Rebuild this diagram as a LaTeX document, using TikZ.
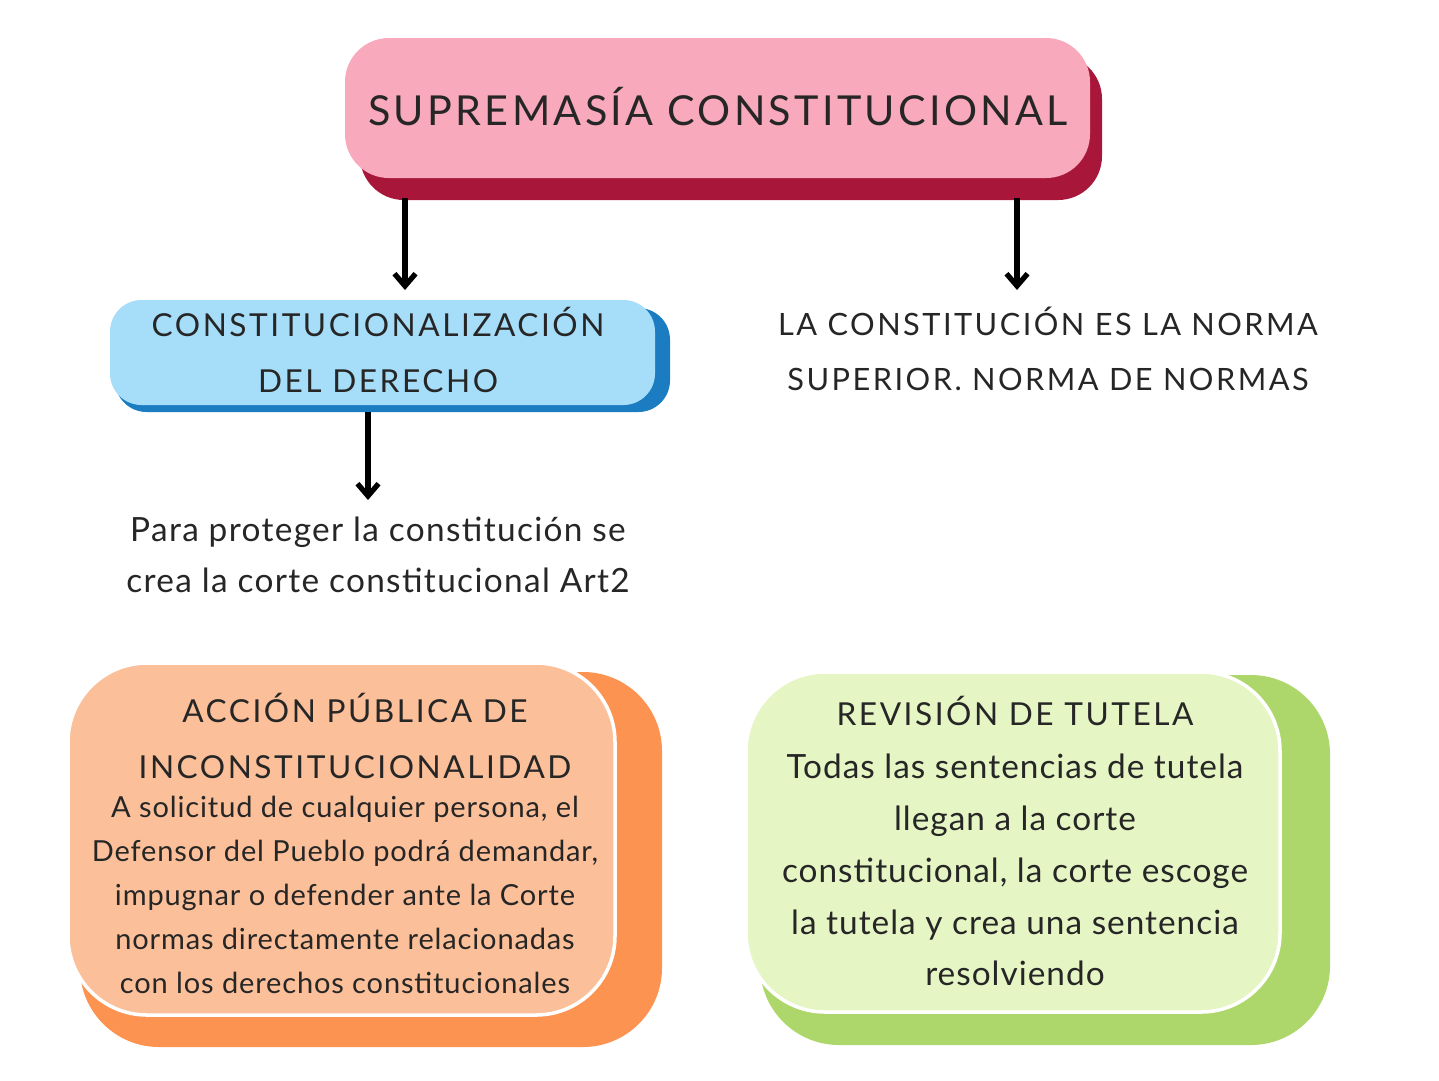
\documentclass[tikz,border=0pt]{standalone}
\usepackage{fontspec}
\setmainfont{Lato}
\usetikzlibrary{arrows.meta}
\begin{document}
\begin{tikzpicture}[x=0.02cm,y=-0.02cm,
  arr/.style={line width=3pt,-{Straight Barb[length=7pt,width=12pt]}},
  txt/.style={align=center,text=black!85}]
\useasboundingbox (0,0) rectangle (1439,1080);
\definecolor{pinkf}{HTML}{F9A9BC}\definecolor{pinks}{HTML}{A8173A}
\definecolor{bluef}{HTML}{A6DDF9}\definecolor{blues}{HTML}{1B7CC1}
\definecolor{oranf}{HTML}{FBBF99}\definecolor{orans}{HTML}{FC9350}
\definecolor{grnf}{HTML}{E6F5C4}\definecolor{grns}{HTML}{ADD76B}
% title
\fill[pinks,rounded corners=25] (360,55) rectangle (1102,200);
\fill[pinkf,rounded corners=25] (345,38) rectangle (1090,178);
\node[txt,font=\fontsize{23.5}{30}\selectfont\addfontfeature{LetterSpace=8}] (title) at (718,107) {SUPREMASÍA CONSTITUCIONAL};
% blue
\fill[blues,rounded corners=18] (115,308) rectangle (670,412);
\fill[bluef,rounded corners=18] (110,300) rectangle (655,405);
\node[txt,font=\fontsize{18}{32}\selectfont\addfontfeature{LetterSpace=8}] (cons) at (378,350) {CONSTITUCIONALIZACIÓN\\DEL DERECHO};
\node[txt,font=\fontsize{17.5}{31}\selectfont\addfontfeature{LetterSpace=8}] (norma) at (1048,349) {LA CONSTITUCIÓN ES LA NORMA\\SUPERIOR. NORMA DE NORMAS};
\coordinate (a1) at (405,198); \coordinate (a2) at (1017,198);
\draw[arr] (a1) -- (405,290);
\draw[arr] (a2) -- (1017,290);
\coordinate (b1) at (368,412);
\draw[arr] (b1) -- (368,500);
\node[txt,font=\fontsize{19}{29}\selectfont\addfontfeature{LetterSpace=4}] (para) at (378,555) {Para proteger la constitución se\\crea la corte constitucional Art2};
% orange
\fill[orans,rounded corners=45] (80,672) rectangle (662,1047);
\draw[white,line width=2pt,fill=oranf,rounded corners=45] (68,663) rectangle (615,1015);
\node[txt,font=\fontsize{18}{32}\selectfont\addfontfeature{LetterSpace=8}] (acc) at (355,736) {ACCIÓN PÚBLICA DE\\INCONSTITUCIONALIDAD};
\node[txt,font=\fontsize{16.5}{25}\selectfont\addfontfeature{LetterSpace=3}] (accb) at (345,895) {A solicitud de cualquier persona, el\\Defensor del Pueblo podrá demandar,\\impugnar o defender ante la Corte\\normas directamente relacionadas\\con los derechos constitucionales};
% green
\fill[grns,rounded corners=45] (760,675) rectangle (1330,1045);
\draw[white,line width=2pt,fill=grnf,rounded corners=45] (746,672) rectangle (1280,1012);
\node[txt,font=\fontsize{18}{32}\selectfont\addfontfeature{LetterSpace=8}] (rev) at (1015,711) {REVISIÓN DE TUTELA};
\node[txt,font=\fontsize{19}{29.5}\selectfont\addfontfeature{LetterSpace=3}] (revb) at (1015,870) {Todas las sentencias de tutela\\llegan a la corte\\constitucional, la corte escoge\\la tutela y crea una sentencia\\resolviendo};
\end{tikzpicture}
\end{document}
